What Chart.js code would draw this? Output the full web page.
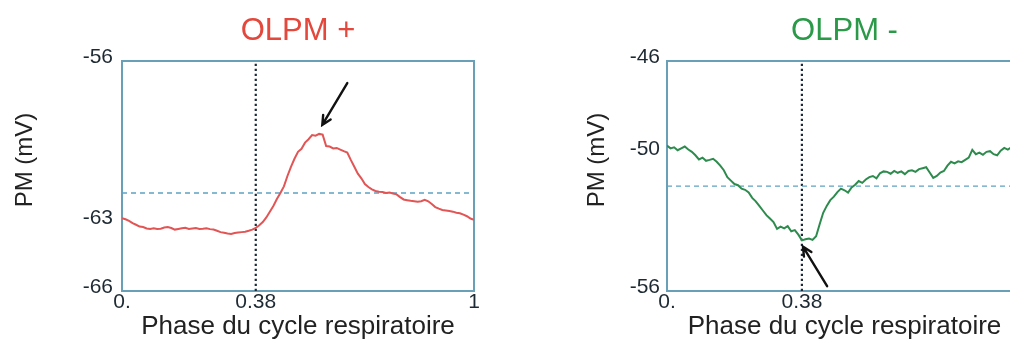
<!DOCTYPE html>
<html>
<head>
<meta charset="utf-8">
<script src="https://cdn.jsdelivr.net/npm/chart.js@4/dist/chart.umd.min.js"></script>
<style>
  html, body { margin:0; padding:0; background:#fff; width:1010px; height:340px; overflow:hidden; }
  .panel { position:absolute; top:0; height:340px; }
</style>
</head>
<body>
<div class="panel" style="left:0;width:500px"><canvas id="c1" width="500" height="340"></canvas></div>
<div class="panel" style="left:500px;width:540px"><canvas id="c2" width="540" height="340"></canvas></div>
<script>
// ---------- data ----------
const phase = [0,0.01,0.02,0.03,0.04,0.05,0.06,0.07,0.08,0.09,
  0.10,0.11,0.12,0.13,0.14,0.15,0.16,0.17,0.18,0.19,
  0.20,0.21,0.22,0.23,0.24,0.25,0.26,0.27,0.28,0.29,
  0.30,0.31,0.32,0.33,0.34,0.35,0.36,0.37,0.38,0.39,
  0.40,0.41,0.42,0.43,0.44,0.45,0.46,0.47,0.48,0.49,
  0.50,0.51,0.52,0.53,0.54,0.55,0.56,0.57,0.58,0.59,
  0.60,0.61,0.62,0.63,0.64,0.65,0.66,0.67,0.68,0.69,
  0.70,0.71,0.72,0.73,0.74,0.75,0.76,0.77,0.78,0.79,
  0.80,0.81,0.82,0.83,0.84,0.85,0.86,0.87,0.88,0.89,
  0.90,0.91,0.92,0.93,0.94,0.95,0.96,0.97,0.98,0.99,1.00];

const pmPlus = [-62.83,-62.88,-62.95,-63.05,-63.12,-63.20,-63.22,-63.28,-63.30,-63.27,
  -63.30,-63.29,-63.24,-63.22,-63.26,-63.33,-63.30,-63.27,-63.25,-63.30,
  -63.28,-63.26,-63.30,-63.29,-63.27,-63.31,-63.33,-63.38,-63.44,-63.47,
  -63.50,-63.52,-63.48,-63.46,-63.44,-63.42,-63.38,-63.33,-63.26,-63.14,
  -63.00,-62.80,-62.55,-62.30,-62.00,-61.74,-61.45,-61.00,-60.60,-60.25,
  -59.95,-59.82,-59.55,-59.40,-59.22,-59.25,-59.17,-59.20,-59.70,-59.72,
  -59.80,-59.78,-59.85,-59.92,-59.98,-60.30,-60.60,-60.90,-61.10,-61.35,
  -61.48,-61.58,-61.65,-61.68,-61.70,-61.74,-61.72,-61.76,-61.80,-61.92,
  -62.02,-62.05,-62.08,-62.10,-62.12,-62.10,-62.04,-62.10,-62.22,-62.35,
  -62.42,-62.48,-62.50,-62.52,-62.55,-62.60,-62.62,-62.68,-62.75,-62.85,-62.90];

const pmMinus = [-49.68,-49.80,-49.75,-49.88,-49.80,-49.72,-49.85,-49.95,-50.10,-50.28,
  -50.20,-50.34,-50.30,-50.25,-50.38,-50.55,-50.75,-51.05,-51.20,-51.35,
  -51.40,-51.55,-51.60,-51.72,-51.95,-52.10,-52.30,-52.50,-52.70,-52.85,
  -53.00,-53.30,-53.20,-53.28,-53.18,-53.40,-53.35,-53.55,-53.80,-53.75,
  -53.72,-53.78,-53.62,-53.10,-52.60,-52.30,-52.05,-51.90,-51.70,-51.55,
  -51.62,-51.72,-51.50,-51.38,-51.22,-51.30,-51.15,-51.05,-51.00,-51.10,
  -50.88,-50.80,-50.82,-50.90,-50.78,-50.86,-50.80,-50.92,-50.78,-50.75,
  -50.82,-50.70,-50.66,-50.62,-50.85,-51.08,-51.00,-50.85,-50.78,-50.55,
  -50.38,-50.45,-50.36,-50.40,-50.30,-50.20,-49.86,-50.05,-49.98,-50.08,
  -49.95,-49.92,-50.05,-50.10,-49.90,-49.78,-49.85,-49.75,-49.80,-49.72,-49.70];

const meanPlus = -61.74;
const meanMinus = -51.44;
const markPhase = 0.38;

const xTicks = [0, 0.38, 1];
const xTickLabels = ["0.", "0.38", "1"];
const yTicksPlus = [-66, -63, -56];
const yTicksMinus = [-56, -50, -46];
const yRangePlus = [-66, -56];
const yRangeMinus = [-56, -46];

// arrows in data units: [tailX, tailY, headX, headY]
const arrowPlus = [0.640, -56.96, 0.569, -58.78];
const arrowMinus = [0.451, -55.79, 0.383, -54.07];

// ---------- styling ----------
const FONT = "'Liberation Sans', Arial, sans-serif";
const FRAME = '#6a9fb8';
const TICKCOL = '#1e2a33';

const extras = {
  id: 'extras',
  afterDatasetsDraw(chart, args, opts) {
    const ctx = chart.ctx;
    const xs = chart.scales.x, ys = chart.scales.y;
    (opts.arrows || []).forEach(a => {
      const x0 = xs.getPixelForValue(a[0]), y0 = ys.getPixelForValue(a[1]);
      const x1 = xs.getPixelForValue(a[2]), y1 = ys.getPixelForValue(a[3]);
      const ang = Math.atan2(y1 - y0, x1 - x0);
      const hl = 10, ha = Math.PI / 7;
      ctx.save();
      ctx.strokeStyle = '#111';
      ctx.lineWidth = 2.4;
      ctx.lineCap = 'round';
      ctx.beginPath();
      ctx.moveTo(x0, y0); ctx.lineTo(x1, y1);
      ctx.moveTo(x1 - hl * Math.cos(ang - ha), y1 - hl * Math.sin(ang - ha));
      ctx.lineTo(x1, y1);
      ctx.lineTo(x1 - hl * Math.cos(ang + ha), y1 - hl * Math.sin(ang + ha));
      ctx.stroke();
      ctx.restore();
    });
  },
  afterDraw(chart, args, opts) {
    const t = opts.yTitle;
    if (!t) return;
    const ctx = chart.ctx;
    ctx.save();
    ctx.translate(t.x, t.y);
    ctx.rotate(-Math.PI / 2);
    ctx.font = '24px ' + FONT;
    ctx.fillStyle = '#222';
    ctx.textAlign = 'center';
    ctx.textBaseline = 'middle';
    ctx.fillText(t.text, 0, 0);
    ctx.restore();
  }
};

function makeChart(id, cfg) {
  const pts = phase.map((p, i) => ({x: p, y: cfg.values[i]}));
  return new Chart(document.getElementById(id), {
    type: 'scatter',
    data: {
      datasets: [
        { data: pts, showLine: true, borderColor: cfg.color, borderWidth: 2,
          pointRadius: 0, tension: 0 },
        { data: [{x: 0, y: cfg.mean}, {x: 1, y: cfg.mean}], showLine: true,
          borderColor: '#5ea2c4', borderWidth: 1.3, borderDash: [5, 4], pointRadius: 0 },
        { data: [{x: markPhase, y: cfg.range[0]}, {x: markPhase, y: cfg.range[1]}], showLine: true,
          borderColor: '#1c2b3a', borderWidth: 2.2, borderDash: [2.2, 2.8], pointRadius: 0 }
      ]
    },
    options: {
      responsive: false,
      animation: false,
      layout: { padding: { left: 0, right: cfg.padRight, top: 0, bottom: 0 } },
      plugins: {
        legend: { display: false },
        tooltip: { enabled: false },
        title: {
          display: true, text: cfg.title, color: cfg.titleColor, fullSize: false,
          font: { family: FONT, size: 31, weight: 'normal', lineHeight: 1.2 },
          padding: { top: 12.4, bottom: 11.4 }
        },
        extras: { arrows: [cfg.arrow], yTitle: { text: 'PM (mV)', x: cfg.yTitleX, y: 160 } }
      },
      scales: {
        x: {
          type: 'linear', position: 'bottom', min: 0, max: 1,
          afterBuildTicks: s => { s.ticks = xTicks.map(v => ({value: v})); },
          afterFit: s => { s.height = 49; },
          ticks: {
            color: TICKCOL, padding: 1, maxRotation: 0, autoSkip: false,
            font: { family: FONT, size: 21, lineHeight: 1 },
            callback: (v) => xTickLabels[xTicks.indexOf(v)]
          },
          grid: { display: false, drawTicks: false },
          border: { display: true, color: FRAME, width: 2 },
          title: {
            display: true, text: 'Phase du cycle respiratoire', color: '#222',
            font: { family: FONT, size: 26, lineHeight: 1 }, padding: { top: 0, bottom: 0.5 }
          }
        },
        y: {
          type: 'linear', position: 'left', min: cfg.range[0], max: cfg.range[1],
          afterBuildTicks: s => { s.ticks = cfg.yTicks.map(v => ({value: v})); },
          afterFit: s => { s.width = cfg.yWidth; },
          ticks: {
            color: TICKCOL, padding: cfg.yPad, labelOffset: -4, autoSkip: false,
            font: { family: FONT, size: 21 },
            callback: v => String(v)
          },
          grid: { display: false, drawTicks: false },
          border: { display: true, color: FRAME, width: 2 }
        },
        x2: {
          type: 'linear', position: 'top', min: 0, max: 1,
          ticks: { display: false }, grid: { display: false, drawTicks: false },
          border: { display: true, color: FRAME, width: 2 },
          afterFit: s => { s.height = 0; }
        },
        y2: {
          type: 'linear', position: 'right', min: 0, max: 1,
          ticks: { display: false }, grid: { display: false, drawTicks: false },
          border: { display: true, color: FRAME, width: 2 },
          afterFit: s => { s.width = 0; }
        }
      }
    },
    plugins: [extras]
  });
}

makeChart('c1', {
  values: pmPlus, mean: meanPlus, range: yRangePlus, yTicks: yTicksPlus,
  color: '#e25555', title: 'OLPM +', titleColor: '#e4473b',
  arrow: arrowPlus, padRight: 26, yWidth: 122, yPad: 9, yTitleX: 25
});
makeChart('c2', {
  values: pmMinus, mean: meanMinus, range: yRangeMinus, yTicks: yTicksMinus,
  color: '#2e8b4e', title: 'OLPM -', titleColor: '#2a9a48',
  arrow: arrowMinus, padRight: 18, yWidth: 167, yPad: 7, yTitleX: 97
});
</script>
</body>
</html>
